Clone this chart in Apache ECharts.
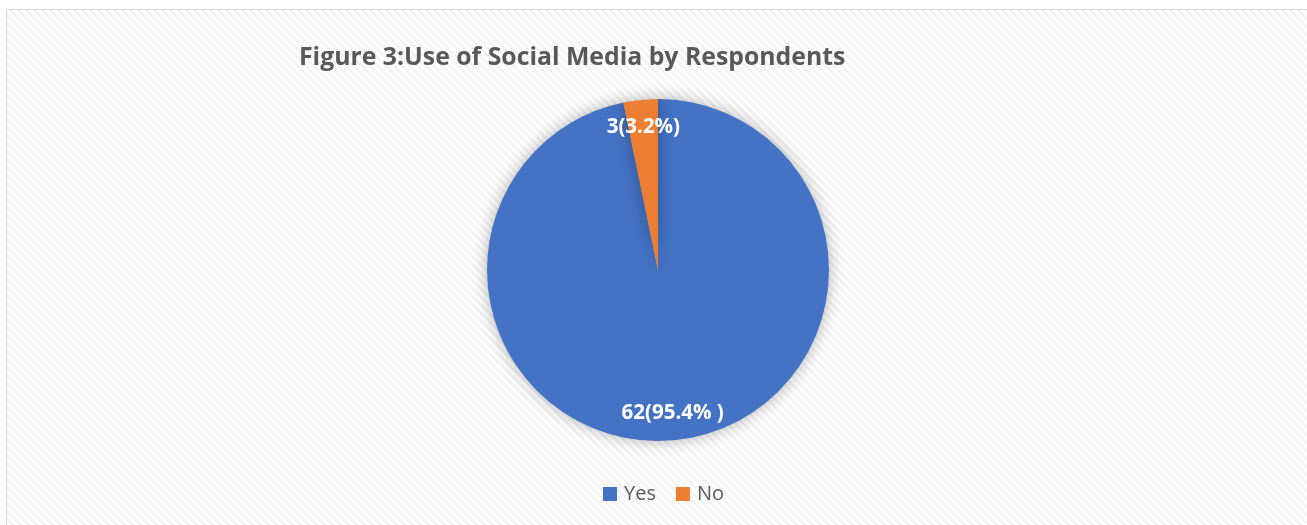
<!DOCTYPE html>
<html>
<head>
<meta charset="utf-8">
<script src="https://cdn.jsdelivr.net/npm/echarts@6/dist/echarts.min.js"></script>
<style>
  html, body { margin: 0; padding: 0; background: #ffffff; }
  #chart { width: 1307px; height: 525px; }
</style>
</head>
<body>
<div id="chart"></div>
<script>
// Survey answers and the share each slice covers
const categories = ['Yes', 'No'];
const shares = [95.4, 3.2];
const counts = [62, 3];
const labelTexts = ['62(95.4% )', '3(3.2%)'];
const colors = ['#4472C4', '#ED7D31'];

// Light diagonal hatch used as the chart area fill
function hatchPattern() {
  const c = document.createElement('canvas');
  c.width = 8; c.height = 8;
  const g = c.getContext('2d');
  g.fillStyle = '#ffffff';
  g.fillRect(0, 0, 8, 8);
  g.strokeStyle = '#f1f1f1';
  g.lineWidth = 2.2;
  g.beginPath();
  g.moveTo(-2, -2); g.lineTo(10, 10);
  g.moveTo(-10, -2); g.lineTo(2, 10);
  g.moveTo(6, -2); g.lineTo(18, 10);
  g.stroke();
  return c;
}

const data = categories.map((name, i) => ({
  name: name,
  value: shares[i],
  itemStyle: { color: colors[i] }
}));

const chart = echarts.init(document.getElementById('chart'), null, { renderer: 'canvas' });
const center = [658, 270];
const radius = 171;

chart.setOption({
  backgroundColor: '#ffffff',
  animation: false,
  graphic: [{
    type: 'rect',
    z: -10,
    silent: true,
    shape: { x: 6.5, y: 9.5, width: 1320, height: 530 },
    style: { fill: { image: hatchPattern(), repeat: 'repeat' }, stroke: '#d9d9d9', lineWidth: 1 }
  }],
  title: {
    text: 'Figure 3:Use of Social Media by Respondents',
    left: 294,
    top: 40,
    textStyle: {
      fontFamily: 'Open Sans',
      fontWeight: 'bold',
      fontSize: 24.8,
      color: '#595959'
    }
  },
  legend: {
    data: categories,
    left: 603,
    top: 484,
    padding: 0,
    itemWidth: 14,
    itemHeight: 14,
    itemGap: 20,
    icon: 'rect',
    textStyle: { fontFamily: 'Open Sans', fontSize: 20, color: '#595959', padding: [0, 0, 0, 2] }
  },
  series: [
    {
      type: 'pie',
      center: center,
      radius: radius,
      startAngle: 90,
      clockwise: true,
      data: data,
      label: { show: false },
      labelLine: { show: false },
      itemStyle: {
        shadowBlur: 16,
        shadowColor: 'rgba(0,0,0,0.3)',
        shadowOffsetX: 0,
        shadowOffsetY: 0
      }
    },
    {
      // transparent ring that carries the value labels near the outer edge
      type: 'pie',
      center: center,
      radius: [112, 170],
      startAngle: 90,
      clockwise: true,
      silent: true,
      data: data.map(d => ({ name: d.name, value: d.value, itemStyle: { color: 'rgba(0,0,0,0)' } })),
      label: {
        show: true,
        position: 'inside',
        formatter: p => labelTexts[p.dataIndex],
        fontFamily: 'Open Sans',
        fontWeight: 'bold',
        fontSize: 20.5,
        color: '#ffffff'
      },
      labelLine: { show: false },
      legendHoverLink: false
    }
  ]
});
</script>
</body>
</html>
